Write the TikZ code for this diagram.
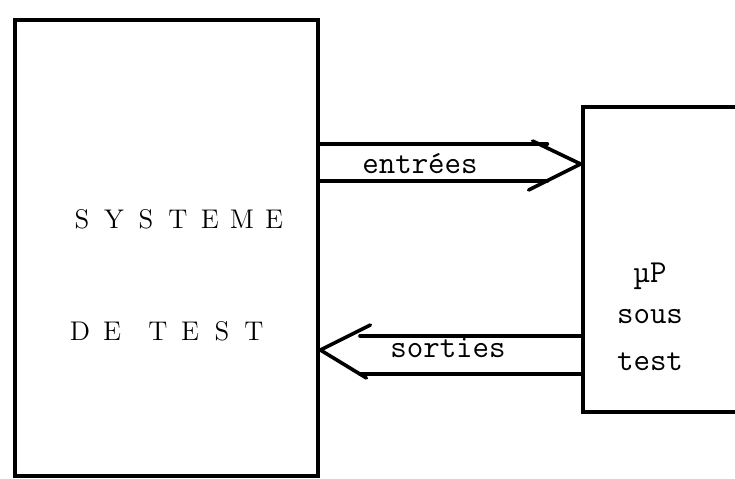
\documentclass[tikz,border=0pt]{standalone}
\usepackage{fontspec}
\usetikzlibrary{positioning}
\newcommand{\lettre}[1]{\makebox[16pt]{#1}}
\tikzset{
  boite/.style={draw, line width=2.4pt, inner sep=0pt, rectangle},
  fleche/.style={line width=1.8pt, line cap=round, line join=round},
  etiq/.style={font=\fontsize{16}{19}\selectfont\ttfamily, anchor=base, inner sep=0pt},
  titre/.style={font=\fontsize{13.5}{16}\selectfont, anchor=base, inner sep=0pt}
}

\begin{document}
\begin{tikzpicture}[x=0.5pt, y=-0.5pt]
		\useasboundingbox (0,0) rectangle (735,478);
		% les deux blocs
		\node[boite, minimum width=151.5pt, minimum height=228pt] (sys) at (166.5,248) {};
		\node[boite, minimum width=88.5pt, minimum height=152.5pt] (up) at (671.5,259.5) {};
		\node[titre] (sys1) at (178,228) {\lettre{S}\lettre{Y}\lettre{S}\lettre{T}\lettre{E}\lettre{M}\lettre{E}};
		\node[titre] (sys2) at (167,340) {\lettre{D}\lettre{E}\hspace{7pt}\lettre{T}\lettre{E}\lettre{S}\lettre{T}};
		\node[etiq] (mup) at (650,282) {µP};
		\node[etiq] (sous) at (650,323) {sous};
		\node[etiq] (test) at (650,370) {test};
		% entrees
		\draw[fleche] (sys.east |- 0,144) -- ++(227,0);
		\draw[fleche] (sys.east |- 0,181) -- ++(227,0);
		\draw[fleche] (up.west |- 0,164) ++(-48,-23) -- (up.west |- 0,164) -- ++(-52,26);
		\node[etiq] (in) at (420,173) {entrées};
		% sorties
		\draw[fleche] (up.west |- 0,336) -- (360,336);
		\draw[fleche] (up.west |- 0,374) -- (360,374);
		\draw[fleche] (sys.east |- 0,350) ++(50,-25) -- (sys.east |- 0,350) -- ++(46,28);
		\node[etiq] (out) at (448,357) {sorties};
	\end{tikzpicture}
\end{document}
